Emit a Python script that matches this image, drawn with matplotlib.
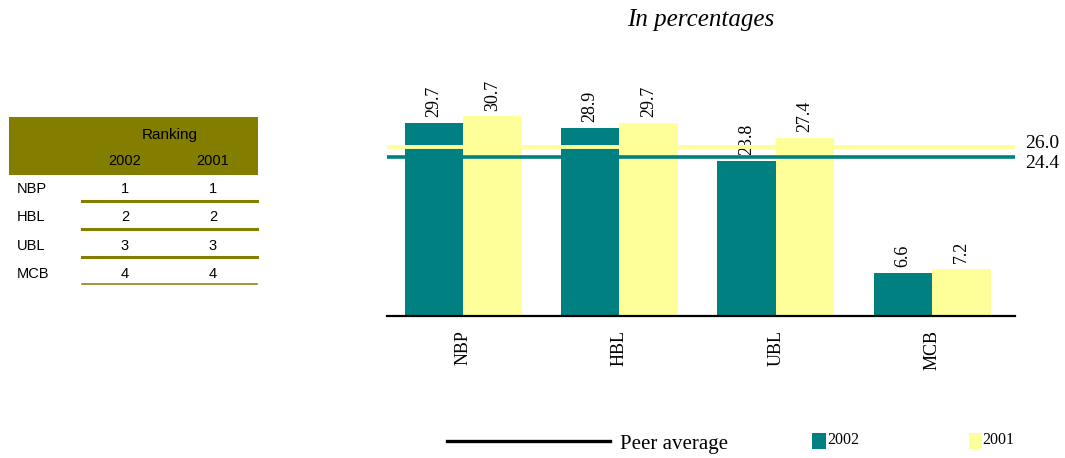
import numpy as np
from matplotlib import pyplot as plt
from matplotlib import rcParams
from matplotlib.patches import Rectangle
from matplotlib.lines import Line2D

rcParams['font.family'] = 'serif'
rcParams['font.serif'] = ['Liberation Serif', 'DejaVu Serif']

#%% data
banks = ['NBP', 'HBL', 'UBL', 'MCB']
v2002 = [29.7, 28.9, 23.8, 6.6]
v2001 = [30.7, 29.7, 27.4, 7.2]
peer2002 = 24.4
peer2001 = 26.0
rank_years = ['2002', '2001']
rank2002 = [1, 2, 3, 4]
rank2001 = [1, 2, 3, 4]

teal = '#008080'
yellow = '#FFFF99'
olive = '#837D00'

#%% figure
fig = plt.figure(figsize=(10.65, 4.58), dpi=100)
W, H = 1065, 458

ax = fig.add_axes([387/W, 1-316/H, 628/W, 38*6.5/H])
x = np.arange(len(banks))
bw = 0.375
ax.bar(x - bw/2, v2002, width=bw, color=teal, zorder=2)
ax.bar(x + bw/2, v2001, width=bw, color=yellow, zorder=2)

for i in range(len(banks)):
    ax.text(x[i] - bw/2, v2002[i] + 0.9, f'{v2002[i]:.1f}', rotation=90,
            ha='center', va='bottom', fontsize=13, zorder=3)
    ax.text(x[i] + bw/2, v2001[i] + 0.9, f'{v2001[i]:.1f}', rotation=90,
            ha='center', va='bottom', fontsize=13, zorder=3)

ax.axhline(peer2001, color=yellow, lw=2.8, zorder=4)
ax.axhline(peer2002, color=teal, lw=2.6, zorder=4)
tr = ax.get_yaxis_transform()
ax.text(1.016, peer2001 + 0.6, f'{peer2001:.1f}', transform=tr, va='center', fontsize=14)
ax.text(1.016, peer2002 - 0.9, f'{peer2002:.1f}', transform=tr, va='center', fontsize=14)

ax.set_xlim(-0.487, 3.53)
ax.set_ylim(0, 38)
ax.set_xticks(x)
ax.set_xticklabels(banks, rotation=90, fontsize=13)
ax.tick_params(axis='x', length=0, pad=10)
ax.set_yticks([])
for s in ['top', 'right', 'left']:
    ax.spines[s].set_visible(False)
ax.spines['bottom'].set_linewidth(1.6)
ax.patch.set_visible(False)

fig.text(701/W, 1-20/H, 'In percentages', ha='center', va='center',
         fontsize=18, style='italic')

#%% overlay for table and legend (pixel coords)
ov = fig.add_axes([0, 0, 1, 1])
ov.set_xlim(0, W)
ov.set_ylim(H, 0)
ov.axis('off')

# ranking table
sans = 'Liberation Sans'
ov.add_patch(Rectangle((9, 117), 249, 58, color=olive, lw=0))
ov.text(170, 135, 'Ranking', ha='center', va='center', fontsize=11, family=sans)
colx = [125, 213]
for cx, yr in zip(colx, rank_years):
    ov.text(cx, 161, yr, ha='center', va='center', fontsize=10.5, family=sans)
row_y = [189, 217, 246, 274]
line_y = [201, 229, 257, 284]
for i, b in enumerate(banks):
    ov.text(17, row_y[i], b, ha='left', va='center', fontsize=10.5, family=sans)
    ov.text(colx[0], row_y[i], str(rank2002[i]), ha='center', va='center', fontsize=10.5, family=sans)
    ov.text(colx[1], row_y[i], str(rank2001[i]), ha='center', va='center', fontsize=10.5, family=sans)
    lw = 2.2 if i < len(banks) - 1 else 1.1
    ov.add_line(Line2D([82, 257], [line_y[i], line_y[i]], color=olive, lw=lw))

# legend
ov.add_line(Line2D([447, 610], [441, 441], color='black', lw=2.4))
ov.text(620, 445, 'Peer average', ha='left', va='center', fontsize=15)
ov.add_patch(Rectangle((812, 433), 14, 16, color=teal, lw=0))
ov.text(827, 440, '2002', ha='left', va='center', fontsize=11.5)
ov.add_patch(Rectangle((969, 433), 13, 16, color=yellow, lw=0))
ov.text(982, 440, '2001', ha='left', va='center', fontsize=11.5)

fig.savefig('out.png', dpi=100)
